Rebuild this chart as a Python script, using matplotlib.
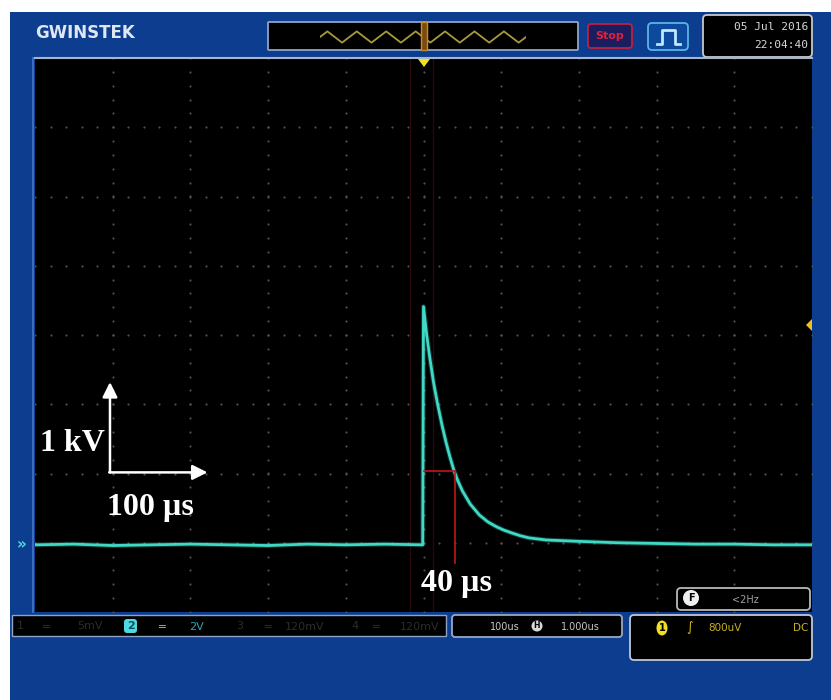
import numpy as np
from matplotlib import pyplot as plt
from matplotlib import patches

# channel 2 trace (time in us, amplitude in kV above baseline)
trace_t = [-500, -450, -400, -350, -300, -250, -200, -150, -100, -50, -1,
           0, 4, 8, 13, 18, 24, 29, 34, 39, 44, 50, 60, 72, 83, 94,
           104, 114, 125, 136, 158, 200, 250, 300, 350, 400, 450, 500]
trace_kv = [0.00, 0.01, -0.01, 0.00, 0.01, 0.00, -0.01, 0.01, 0.00, 0.01, 0.00,
            3.44, 3.04, 2.71, 2.34, 2.04, 1.72, 1.48, 1.27, 1.08, 0.93, 0.78, 0.59, 0.43, 0.33, 0.26,
            0.21, 0.17, 0.13, 0.10, 0.07, 0.05, 0.03, 0.02, 0.01, 0.01, 0.00, 0.00]

# cursor at the 1/e point
cursor_t = 40
cursor_kv = 1.06

# scope settings
baseline_div = -3.03       # channel 2 ground level, divisions from centre
time_per_div = 100         # [us]
kv_per_div = 1.0           # [kV]
n_hdiv = 10
n_vdiv = 8

# labels
label_v = '1 kV'
label_t = '100 µs'
label_tau = '40 µs'
date_str = '05 Jul 2016'
time_str = '22:04:40'
overview_wave = [0, 1, 0, -1, 0, 1, 0, -1, 0, 1, 0, -1, 0, 1, 0, -1, 0, 1, 0, -1, 0, 1, 0, -1, 0, 1, 0, -1, 0]

BLUE = '#0c3d8e'
TRACE = '#3fd9c6'
W, H = 831, 700


def px(x0, y0, x1, y1):
    # figure rect from pixel box (top-left origin)
    return [x0 / W, 1 - y1 / H, (x1 - x0) / W, (y1 - y0) / H]


def box(ax, x0, y0, x1, y1, fc='black', ec='#9aa8c4', lw=1.3, r=3):
    ax.add_patch(patches.FancyBboxPatch((x0, y0), x1 - x0, y1 - y0,
                                        boxstyle=f'round,pad=0,rounding_size={r}',
                                        fc=fc, ec=ec, lw=lw))


def pixel_axes(zorder):
    a = fig.add_axes([0, 0, 1, 1], zorder=zorder)
    a.set_xlim(0, W)
    a.set_ylim(H, 0)
    a.axis('off')
    a.patch.set_alpha(0)
    return a


fig = plt.figure(figsize=(W / 100, H / 100), dpi=100)
fig.patch.set_facecolor('white')

# background frame in pixel coords
bg = pixel_axes(0)
bg.add_patch(patches.Rectangle((10, 12), W - 10, H - 12, fc=BLUE, ec='none'))
bg.plot([33, 33], [58, 612], color='#3a6cc0', lw=1.5)

# ---- top bar ----
bg.text(35, 33, 'GWINSTEK', color='#dfe7f5', fontsize=12, fontweight='bold',
        va='center', ha='left', family='DejaVu Sans')
box(bg, 268, 22, 578, 50, ec='#8ea2c8', r=1)
box(bg, 588, 24, 632, 48, fc='#1b1d5e', ec='#c0203c', r=3)
bg.text(610, 36, 'Stop', color='#e0203c', fontsize=8, fontweight='bold', ha='center', va='center')
box(bg, 648, 23, 688, 50, fc='#0d4a9e', ec='#5ab4e6', r=4)
bg.plot([657, 662, 662, 675, 675, 680], [44, 44, 30, 30, 44, 44], color='#bfe8ff', lw=2)
box(bg, 703, 15, 812, 57, ec='#c8c8c8', r=4)
bg.text(808, 27, date_str, color='#d8d8d8', fontsize=8, ha='right', va='center', family='DejaVu Sans Mono')
bg.text(808, 45, time_str, color='#d8d8d8', fontsize=8, ha='right', va='center', family='DejaVu Sans Mono')

# overview waveform
ov = fig.add_axes(px(320, 28, 526, 46), zorder=1)
ov.plot(np.arange(len(overview_wave)), overview_wave, color='#a89a3c', lw=1.3)
ov.set_xlim(0, len(overview_wave) - 1)
ov.set_ylim(-1.6, 1.6)
ov.axis('off')

# ---- bottom bar ----
bg.add_patch(patches.Rectangle((12, 615), 434, 21, fc='black', ec='#8ea2c8', lw=1))
faded = '#2c2c2c'
bg.text(20, 626, '1', color=faded, fontsize=8, ha='center', va='center')
bg.text(45, 626, '═', color=faded, fontsize=8, ha='center', va='center')
bg.text(90, 626, '5mV', color=faded, fontsize=8, ha='center', va='center')
bg.add_patch(patches.FancyBboxPatch((124, 619), 13, 14, boxstyle='round,pad=0,rounding_size=3',
                                    fc='#4fd8e0', ec='none'))
bg.text(130.5, 626, '2', color='#0b5060', fontsize=8, fontweight='bold', ha='center', va='center')
bg.text(161, 626, '═', color=TRACE, fontsize=8, ha='center', va='center')
bg.text(197, 627, '2V', color='#2fa6b0', fontsize=8, ha='center', va='center')
bg.text(240, 626, '3', color=faded, fontsize=8, ha='center', va='center')
bg.text(268, 626, '═', color=faded, fontsize=8, ha='center', va='center')
bg.text(305, 627, '120mV', color=faded, fontsize=8, ha='center', va='center')
bg.text(355, 626, '4', color=faded, fontsize=8, ha='center', va='center')
bg.text(376, 626, '═', color=faded, fontsize=8, ha='center', va='center')
bg.text(420, 627, '120mV', color=faded, fontsize=8, ha='center', va='center')

box(bg, 452, 615, 622, 637, ec='#9aa8c4', r=3)
bg.text(505, 627, '100us', color='#c8c8c8', fontsize=7, ha='center', va='center')
bg.add_patch(patches.Circle((537, 626), 5.5, fc='#d8d8d8', ec='none'))
bg.text(537, 626, 'H', color='black', fontsize=5.5, fontweight='bold', ha='center', va='center')
bg.text(580, 627, '1.000us', color='#c8c8c8', fontsize=7, ha='center', va='center')

box(bg, 630, 615, 812, 660, ec='#c0c8d8', r=4)
bg.add_patch(patches.Ellipse((662, 628), 11, 15, fc='#f0e020', ec='none'))
bg.text(662, 628, '1', color='black', fontsize=7, fontweight='bold', ha='center', va='center')
bg.text(690, 628, '∫', color='#d8c020', fontsize=9, ha='center', va='center')
bg.text(725, 628, '800uV', color='#c8b020', fontsize=7.5, ha='center', va='center')
bg.text(801, 628, 'DC', color='#c8b020', fontsize=7.5, ha='center', va='center')

# ---- screen ----
ax = fig.add_axes(px(35, 58, 812, 612), zorder=2)
ax.set_facecolor('black')
xmax = n_hdiv / 2 * time_per_div
ymax = n_vdiv / 2
ax.set_xlim(-xmax, xmax)
ax.set_ylim(-ymax, ymax)
ax.set_xticks([])
ax.set_yticks([])
for s in ax.spines.values():
    s.set_visible(False)
ax.spines['top'].set_visible(True)
ax.spines['top'].set_color('#a8b4cc')
ax.spines['top'].set_linewidth(1.5)

# dotted graticule
for k in range(-n_hdiv // 2 + 1, n_hdiv // 2):
    yy = np.arange(-ymax, ymax + 0.01, 0.2)
    ax.scatter(np.full_like(yy, k * time_per_div), yy, s=2.5, color='#505050', lw=0)
for j in range(-n_vdiv // 2 + 1, n_vdiv // 2):
    xx = np.arange(-xmax, xmax + 0.1, time_per_div / 5)
    ax.scatter(xx, np.full_like(xx, j), s=2.5, color='#505050', lw=0)

# faint cursor lines
ax.axvline(-18, color='#2e0808', lw=1)
ax.axvline(12, color='#2e0808', lw=1)

# trace
ty = np.array(trace_kv) / kv_per_div + baseline_div
ax.plot(trace_t, ty, color=TRACE, lw=3.5, alpha=0.25, solid_joinstyle='round')
ax.plot(trace_t, ty, color=TRACE, lw=2, solid_joinstyle='round')

# 1/e cursor
cy = cursor_kv / kv_per_div + baseline_div
ax.plot([0, cursor_t], [cy, cy], color='#c0161c', lw=1.2)
ax.plot([cursor_t, cursor_t], [cy, baseline_div - 0.26], color='#c0161c', lw=1.2)

# scale arrows
arw = dict(arrowstyle='-|>,head_length=0.9,head_width=0.45', color='white', lw=1.8, shrinkA=0, shrinkB=0)
ax.annotate('', xy=(0.0965, 0.415), xytext=(0.0965, 0.252), xycoords='axes fraction', arrowprops=arw)
ax.annotate('', xy=(0.222, 0.252), xytext=(0.0955, 0.252), xycoords='axes fraction', arrowprops=arw)
serif = dict(color='white', fontsize=23, fontweight='bold', family='Liberation Serif')
ax.text(0.006, 0.305, label_v, ha='left', va='center', transform=ax.transAxes, **serif)
ax.text(0.149, 0.188, label_t, ha='center', va='center', transform=ax.transAxes, **serif)
ax.text(0.542, 0.052, label_tau, ha='center', va='center', transform=ax.transAxes, **serif)

# ---- overlay: markers and filter box on top of the screen ----
top = pixel_axes(3)
top.add_patch(patches.Rectangle((421, 22), 6, 28, fc='#7a4a10', ec='#d08a20', lw=1))
top.add_patch(patches.Polygon([[418, 59], [430, 59], [424, 67]], fc='#f0e020', ec='none'))
top.add_patch(patches.Polygon([[812, 319], [812, 331], [806, 325]], fc='#f0c020', ec='none'))
top.text(21, 545, '»', color='#4fd8e0', fontsize=11, fontweight='bold', ha='center', va='center')
box(top, 677, 588, 810, 610, ec='#b8b8b8', r=4)
top.add_patch(patches.Circle((691, 598), 8, fc='#f0f0f0', ec='none'))
top.text(691, 598, 'F', color='black', fontsize=7, fontweight='bold', ha='center', va='center')
top.text(745, 600, '<2Hz', color='#a0a0a0', fontsize=7, ha='center', va='center')

fig.savefig('out.png', dpi=100, facecolor='white')
